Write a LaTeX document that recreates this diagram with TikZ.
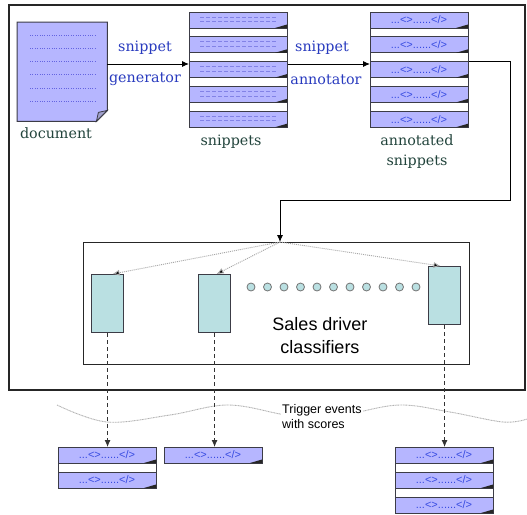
\documentclass[tikz,border=0pt]{standalone}
\usepackage{fontspec}
\setmainfont{DejaVu Serif}
\newfontfamily\arialfont{Liberation Sans}
\usetikzlibrary{arrows.meta,calc}

\definecolor{paper}{RGB}{182,182,255}
\definecolor{edge}{RGB}{60,60,70}
\definecolor{clsfill}{RGB}{186,224,226}
\definecolor{verbblue}{RGB}{40,58,190}
\definecolor{nounteal}{RGB}{34,68,60}
\definecolor{tagblue}{RGB}{55,75,225}
\definecolor{dashblue}{RGB}{130,130,230}
\definecolor{docdot}{RGB}{100,100,225}

\tikzset{
  x=1pt, y=-1pt,
  outerframe/.style={draw=black!85, line width=2.2pt},
  clsframe/.style={draw=black!85, line width=1.2pt, fill=white, inner sep=0pt, anchor=north west,
                   minimum width=386pt, minimum height=122pt},
  stackbox/.style={draw=edge, line width=0.9pt, fill=white, inner sep=0pt, anchor=north west,
                   minimum width=98pt},
  classifier/.style={draw=edge, line width=1.1pt, fill=clsfill, inner sep=0pt, anchor=north west,
                     minimum width=32pt, minimum height=58pt},
  verb/.style={text=verbblue, font=\fontsize{14.3}{17}\selectfont, inner sep=0pt},
  noun/.style={text=nounteal, font=\fontsize{14.3}{20}\selectfont, inner sep=0pt, align=center},
  tag/.style={text=tagblue, font=\arialfont\fontsize{11}{12}\selectfont, inner sep=0pt},
  flow/.style={draw=black, line width=0.9pt, -{Latex[length=7pt,width=6pt]}},
  fan/.style={draw=gray!70, line width=0.9pt, dash pattern=on 1pt off 1pt,
              -{Latex[length=7pt,width=6pt,fill=black]}},
  drop/.style={draw=black!80, line width=0.9pt, dash pattern=on 4pt off 3pt,
               -{Latex[length=7pt,width=6pt]}},
  wave/.style={draw=gray!60, line width=0.9pt, dash pattern=on 1pt off 0.6pt},
  dotcirc/.style={draw=gray!90!black, line width=0.8pt, fill=clsfill},
}

% one strip of a stack: left edge, top edge
\newcommand\stripbase[2]{%
  \filldraw[fill=paper, draw=edge, line width=0.9pt] (#1,#2) rectangle ++(98,16);
  \fill[black!85] (#1+86,#2+16) -- (#1+98,#2+12.5) -- (#1+98,#2+16) -- cycle;
}
\newcommand\dashstrip[2]{%
  \stripbase{#1}{#2}%
  \draw[dashblue, line width=0.8pt, dash pattern=on 4pt off 2pt] (#1+11,#2+5) -- ++(76,0);
  \draw[dashblue, line width=0.8pt, dash pattern=on 4pt off 2pt] (#1+11,#2+9.5) -- ++(76,0);
}
\newcommand\tagstrip[2]{%
  \stripbase{#1}{#2}%
  \node[tag] at (#1+49,#2+8) {...<>......</>};
}

\begin{document}
\begin{tikzpicture}
\useasboundingbox (0,0) rectangle (527,514);

% outer frame of the pipeline
\node[outerframe, inner sep=0pt, anchor=north west, minimum width=516pt, minimum height=385pt]
  (frame) at (8,4) {};

% source document with a folded corner
\node[inner sep=0pt, anchor=north west, minimum width=90pt, minimum height=99pt] (doc) at (17,22) {};
\filldraw[fill=paper, draw=edge, line width=1pt]
  (doc.north west) -- (doc.north east) -- ($(doc.south east)+(0,-11)$)
  -- ($(doc.south east)+(-11,0)$) -- (doc.south west) -- cycle;
\filldraw[fill=paper!60!gray, draw=edge, line width=0.8pt]
  ($(doc.south east)+(0,-11)$) -- ($(doc.south east)+(-11,0)$) -- ($(doc.south east)+(-9,-9)$) -- cycle;
\foreach \r in {0,...,5}
  \draw[docdot, line width=0.9pt, dash pattern=on 1pt off 1.4pt] (30,35+13.3*\r) -- (96,35+13.3*\r);
\node[noun] (doclabel) at (56,133) {document};

% snippet stack
\node[stackbox, minimum height=115pt] (snip) at (189,12) {};
\foreach \i in {0,...,4} { \dashstrip{189}{12+24.8*\i} }
\node[noun] (sniplabel) at (231,142) {snippets};

% annotated snippet stack
\node[stackbox, minimum height=115pt] (annot) at (370,12) {};
\foreach \i in {0,...,4} { \tagstrip{370}{12+24.8*\i} }
\node[noun] (annotlabel) at (417,152) {annotated\\snippets};

% generator and annotator steps
\draw[flow] (doc.north east) ++(0,42) coordinate (g0) -- (g0 -| snip.west);
\node[verb] (gen1) at (145,48) {snippet};
\node[verb] (gen2) at (145,79) {generator};
\draw[flow] (snip.north east) ++(0,52) coordinate (a0) -- (a0 -| annot.west);
\node[verb] (ann1) at (322,48) {snippet};
\node[verb] (ann2) at (326,80) {annotator};

% classifier block
\node[clsframe] (clsbox) at (83,242) {};
\node[classifier] (c1) at (91,274) {};
\node[classifier] (c2) at (198,274) {};
\node[classifier] (c3) at (428,266) {};
\foreach \k in {0,...,10}
  \draw[dotcirc] (251+16.5*\k,287) circle (4pt);
\node[font=\arialfont\fontsize{18}{23}\selectfont, align=center, inner sep=0pt] (clslabel)
  at (320,336) {Sales driver\\classifiers};

% annotated snippets feed the classifiers
\coordinate (tap) at ($(annot.north east)+(0,49)$);
\coordinate (bend) at (510,200);
\coordinate (fanout) at (280,242);
\draw[flow] (tap) -| (bend) -| (fanout);
\draw[fan] (fanout) -- ($(c1.north)+(5,0)$);
\draw[fan] (fanout) -- ($(c2.north)+(2,0)$);
\draw[fan] (fanout) -- ($(c3.north)+(-4,0)$);

% boundary between pipeline and emitted events
\draw[wave] plot[smooth, tension=0.6] coordinates
  {(57,405) (107,422) (170,415) (227,405) (280,414) (315,421) (350,414) (400,405) (450,412) (503,422) (527,419)};
\node[font=\arialfont\fontsize{12.5}{15}\selectfont, align=left, fill=white, inner sep=1pt, anchor=west]
  (events) at (281,417) {Trigger events\\with scores};

% emitted trigger events
\node[stackbox, minimum height=41pt] (out1) at (58,447) {};
\foreach \i in {0,1} { \tagstrip{58}{447+25*\i} }
\node[stackbox, minimum height=16pt] (out2) at (164,447) {};
\tagstrip{164}{447}
\node[stackbox, minimum height=66pt] (out3) at (395,447) {};
\foreach \i in {0,1,2} { \tagstrip{395}{447+25*\i} }

\draw[drop] (c1.south) -- (c1.south |- out1.north);
\draw[drop] (c2.south) -- (c2.south |- out2.north);
\draw[drop] (c3.south) -- (c3.south |- out3.north);
\end{tikzpicture}
\end{document}
